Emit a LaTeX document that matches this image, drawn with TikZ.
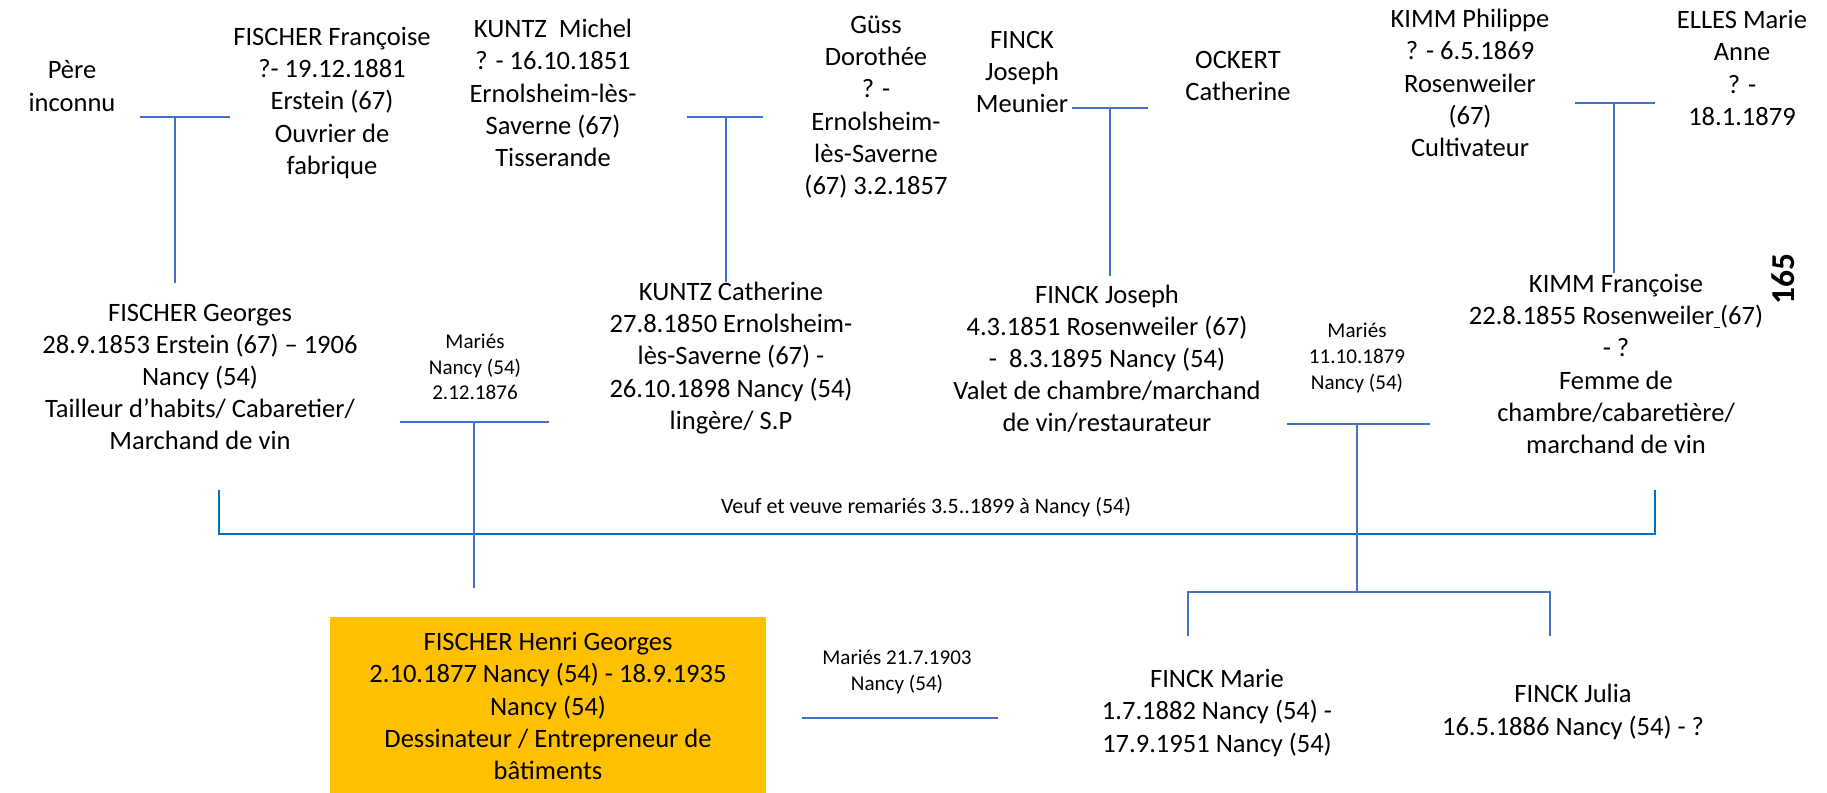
\documentclass[tikz,border=0pt]{standalone}
\usepackage{fontspec}
\setmainfont{Carlito}
\definecolor{linkblue}{HTML}{4472C4}
\definecolor{barblue}{HTML}{0070C0}
\definecolor{boxorange}{HTML}{FFC000}
\newcommand\persfont{\fontsize{15.1}{18.3}\selectfont}
\newcommand\notefont{\fontsize{12}{14.6}\selectfont}
\begin{document}
\begin{tikzpicture}[x=0.02cm, y=-0.02cm,
		pers/.style={align=center, inner sep=0pt, font=\persfont},
		note/.style={align=center, inner sep=0pt, font=\notefont},
		link/.style={draw=linkblue, line width=1.1pt},
		bar/.style={draw=barblue, line width=1.3pt}]
		\useasboundingbox (0,0) rectangle (1827,793);
		
		\node[pers] (pere) at (72,86) {Père\\inconnu};
		\node[pers] (francoise) at (332,103) {FISCHER Françoise\\?- 19.12.1881\\Erstein (67)\\Ouvrier de\\fabrique};
		\node[pers] (michel) at (553,93) {KUNTZ\ \ Michel\\? - 16.10.1851\\Ernolsheim-lès-\\Saverne (67)\\Tisserande};
		\node[pers] (dorothee) at (876,107) {Güss\\Dorothée\\? -\\Ernolsheim-\\lès-Saverne\\(67) 3.2.1857};
		\node[pers] (josephp) at (1022,72) {FINCK\\Joseph\\Meunier};
		\node[pers] (ockert) at (1238,76) {OCKERT\\Catherine};
		\node[pers] (philippe) at (1470,83) {KIMM Philippe\\? - 6.5.1869\\Rosenweiler\\(67)\\Cultivateur};
		\node[pers] (elles) at (1742,68) {ELLES Marie\\Anne\\? -\\18.1.1879};
		\node[rotate=90, inner sep=0pt, font=\bfseries\fontsize{19}{22}\selectfont] (page) at (1783,279) {165};
		
		\node[pers] (georges) at (200,377) {FISCHER Georges\\28.9.1853 Erstein (67) – 1906\\Nancy (54)\\Tailleur d’habits/ Cabaretier/\\Marchand de vin};
		\node[pers] (catherine) at (731,358) {KUNTZ Catherine\\27.8.1850 Ernolsheim-\\lès-Saverne (67) -\\26.10.1898 Nancy (54)\\lingère/ S.P};
		\node[pers] (josephf) at (1107,359) {FINCK Joseph\\4.3.1851 Rosenweiler (67)\\-\ \ 8.3.1895 Nancy (54)\\Valet de chambre/marchand\\de vin/restaurateur};
		\node[pers] (francoisek) at (1616,364) {KIMM Françoise\\22.8.1855 Rosenweiler\underline{\ }(67)\\- ?\\Femme de\\chambre/cabaretière/\\marchand de vin};
		\node[note] (mariage1) at (475,367) {Mariés\\Nancy (54)\\2.12.1876};
		\node[note] (mariage2) at (1357,358) {Mariés\\11.10.1879\\Nancy (54)};
		\node[note, font=\fontsize{12.5}{14.6}\selectfont] (remariage) at (926,507) {Veuf et veuve remariés 3.5..1899 à Nancy (54)};
		
		\node[pers, fill=boxorange, minimum width=8.72cm, minimum height=3.58cm] (henri) at (548,706) {FISCHER Henri Georges\\2.10.1877 Nancy (54) - 18.9.1935\\Nancy (54)\\Dessinateur / Entrepreneur de\\bâtiments};
		\node[note] (mariage3) at (897,672) {Mariés 21.7.1903\\Nancy (54)};
		\node[pers] (marie) at (1217,713) {FINCK Marie\\1.7.1882 Nancy (54) -\\17.9.1951 Nancy (54)};
		\node[pers] (julia) at (1573,712) {FINCK Julia\\16.5.1886 Nancy (54) - ?};
		
		\coordinate (a1) at (140,117); \coordinate (a2) at (230,117);
		\coordinate (a3) at (175,117); \coordinate (a4) at (175,283);
		\coordinate (b1) at (687,117); \coordinate (b2) at (763,117);
		\coordinate (b3) at (726,117); \coordinate (b4) at (726,282);
		\coordinate (c1) at (1072,108); \coordinate (c2) at (1148,108);
		\coordinate (c3) at (1110,108); \coordinate (c4) at (1110,276);
		\coordinate (d1) at (1575,103); \coordinate (d2) at (1655,103);
		\coordinate (d3) at (1614,103); \coordinate (d4) at (1614,273);
		\draw[link] (a1) -- (a2);
		\draw[link] (a3) -- (a4);
		\draw[link] (b1) -- (b2);
		\draw[link] (b3) -- (b4);
		\draw[link] (c1) -- (c2);
		\draw[link] (c3) -- (c4);
		\draw[link] (d1) -- (d2);
		\draw[link] (d3) -- (d4);
		
		\coordinate (w1) at (219,490); \coordinate (w2) at (219,534);
		\coordinate (w3) at (1655,534); \coordinate (w4) at (1655,490);
		\draw[bar] (w1) -- (w2) -- (w3) -- (w4);
		
		\coordinate (e1) at (400,422); \coordinate (e2) at (549,422);
		\coordinate (e3) at (474,422); \coordinate (e4) at (474,588);
		\draw[link] (e1) -- (e2);
		\draw[link] (e3) -- (e4);
		\coordinate (f1) at (1287,424); \coordinate (f2) at (1430,424);
		\coordinate (f3) at (1357,424); \coordinate (f4) at (1357,592);
		\draw[link] (f1) -- (f2);
		\draw[link] (f3) -- (f4);
		
		\coordinate (g1) at (1188,636); \coordinate (g2) at (1188,592);
		\coordinate (g3) at (1550,592); \coordinate (g4) at (1550,636);
		\draw[link] (g1) -- (g2) -- (g3) -- (g4);
		
		\coordinate (h1) at (802,718); \coordinate (h2) at (998,718);
		\draw[link] (h1) -- (h2);
	\end{tikzpicture}
\end{document}
